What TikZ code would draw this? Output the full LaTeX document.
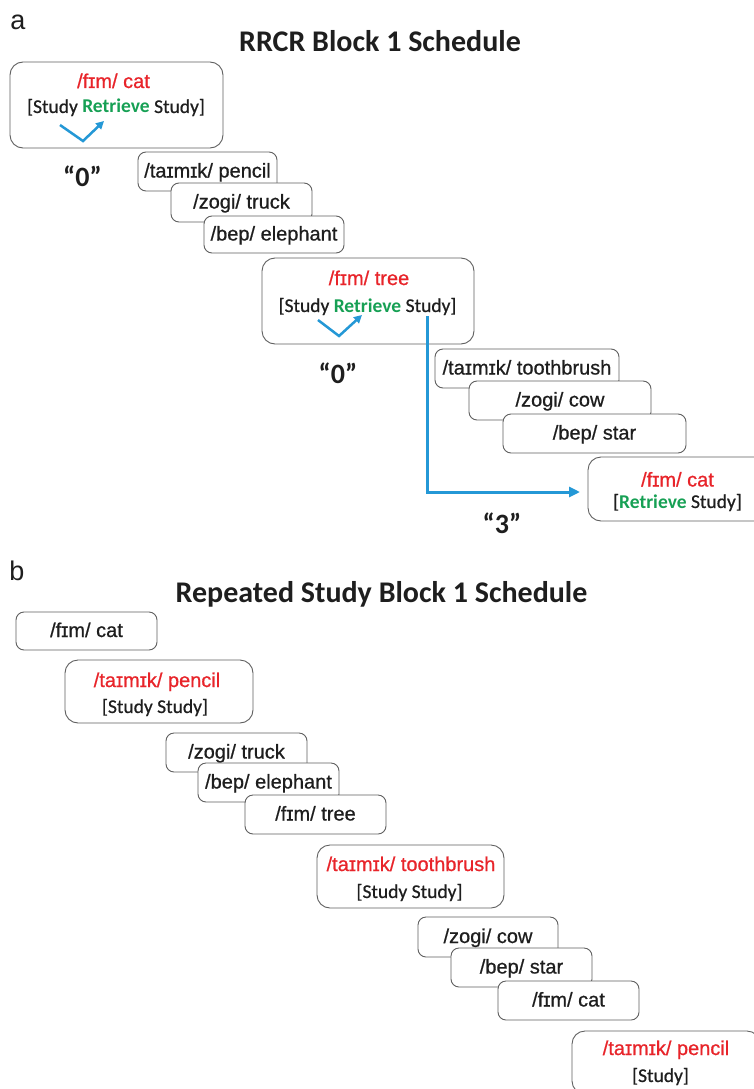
\documentclass[tikz,border=0pt]{standalone}
\usepackage{fontspec}
\setmainfont{Liberation Sans}
\newfontfamily\arialmed{Liberation Sans}[FakeBold=0.7]
\newfontfamily\calfont{Carlito}
\newfontfamily\calmed{Carlito}[FakeBold=0.6]
\usetikzlibrary{arrows.meta,fit}
\definecolor{myred}{RGB}{232,36,42}
\definecolor{mygreen}{RGB}{22,160,84}
\definecolor{myblue}{RGB}{36,152,214}
\definecolor{boxgray}{RGB}{96,96,96}
\definecolor{txt}{RGB}{30,30,30}
\tikzset{
 box/.style={draw=boxgray, line width=0.9pt, fill=white, rounded corners=8pt, inner sep=0pt},
 bigbox/.style={box, rounded corners=13pt},
 word/.style={font=\arialmed\fontsize{20}{20}\selectfont, text=txt, anchor=base, inner sep=0pt},
 redword/.style={word, text=myred},
 bracket/.style={font=\calmed\fontsize{19.5}{19.5}\selectfont, text=txt, anchor=base, inner sep=0pt},
 titletext/.style={font=\calfont\bfseries\fontsize{30}{30}\selectfont, text=txt, anchor=base, inner sep=0pt},
 quotetext/.style={font=\calfont\bfseries\fontsize{28}{28}\selectfont, text=txt, anchor=base, inner sep=0pt},
 panel/.style={font=\fontsize{27}{27}\selectfont, anchor=base, text=txt, inner sep=0pt},
 check/.style={draw=myblue, line width=2.5pt, -{Triangle[length=8pt,width=8pt]}},
 bluearrow/.style={draw=myblue, line width=3pt, -{Triangle[length=11pt,width=10pt]}},
}
\newcommand\wbox[6]{%
  \node[box, fit={(#2,#3) (#4,#5)}] (#1) {};
  \node[word] (#1t) at ([yshift=-6pt]#1.center) {#6};}
\newcommand\ebox[6]{%
  \node[#6, fit={(#2,#3) (#4,#5)}] (#1) {};}
\newcommand\grn[1]{\textcolor{mygreen}{\calfont\bfseries #1}}
\begin{document}
\begin{tikzpicture}[x=1pt,y=-1pt]
\useasboundingbox (0,0) rectangle (754,1089);
\clip (0,0) rectangle (754,1089);
\fill[white] (0,0) rectangle (754,1089);
% ---------- panel a ----------
\node[panel] (pa) at (18,30) {a};
\node[titletext] (ta) at (380,52) {RRCR Block 1 Schedule};
\ebox{a1}{10}{62}{223}{148}{bigbox}
\node[redword] (a1r) at (113.5,88) {/fɪm/ cat};
\node[bracket] (a1b) at (116,113) {[Study \grn{Retrieve} Study]};
\draw[check] (60,125) -- (83,141) -- (104,121);
\node[quotetext] (q1) at (82.5,186) {“0”};
\wbox{a2}{138}{152}{277}{191}{/taɪmɪk/ pencil}
\wbox{a3}{171}{183}{312}{222}{/zogi/ truck}
\wbox{a4}{204}{216}{344}{253}{/bep/ elephant}
\ebox{a5}{262}{258}{474}{344}{bigbox}
\node[redword] (a5r) at (369,285) {/fɪm/ tree};
\node[bracket] (a5b) at (367.5,312) {[Study \grn{Retrieve} Study]};
\draw[check] (318,320) -- (339,336) -- (362,315);
\node[quotetext] (q2) at (338,383) {“0”};
\wbox{a6}{435}{349}{619}{388}{/taɪmɪk/ toothbrush}
\wbox{a7}{469}{381}{651}{420}{/zogi/ cow}
\wbox{a8}{503}{414}{686}{453}{/bep/ star}
\ebox{a9}{588}{457}{767}{521}{bigbox}
\node[redword] (a9r) at (677.5,486.5) {/fɪm/ cat};
\node[bracket] (a9b) at (677.5,508) {[\grn{Retrieve} Study]};
\coordinate (ls) at (427,316);
\coordinate (le) at (580,492);
\draw[bluearrow] (ls) |- (le);
\node[quotetext] (q3) at (502,533) {“3”};
% ---------- panel b ----------
\node[panel] (pb) at (17,580) {b};
\node[titletext] (tb) at (381.5,602) {Repeated Study Block 1 Schedule};
\wbox{b1}{16}{612}{157}{650}{/fɪm/ cat}
\ebox{b2}{65}{660}{253}{723}{bigbox}
\node[redword] (b2r) at (157,687) {/taɪmɪk/ pencil};
\node[bracket] (b2b) at (155,713) {[Study Study]};
\wbox{b3}{166}{733}{307}{772}{/zogi/ truck}
\wbox{b4}{198}{763}{339}{802}{/bep/ elephant}
\wbox{b5}{245}{795}{386}{834}{/fɪm/ tree}
\ebox{b6}{317}{845}{504}{908}{bigbox}
\node[redword] (b6r) at (411,871) {/taɪmɪk/ toothbrush};
\node[bracket] (b6b) at (409.5,898) {[Study Study]};
\wbox{b7}{418}{917}{558}{957}{/zogi/ cow}
\wbox{b8}{451}{948}{592}{987}{/bep/ star}
\wbox{b9}{498}{981}{639}{1020}{/fɪm/ cat}
\ebox{b10}{572}{1031}{760}{1094}{bigbox}
\node[redword] (b10r) at (666,1055) {/taɪmɪk/ pencil};
\node[bracket] (b10b) at (660.5,1082) {[Study]};
\end{tikzpicture}
\end{document}
